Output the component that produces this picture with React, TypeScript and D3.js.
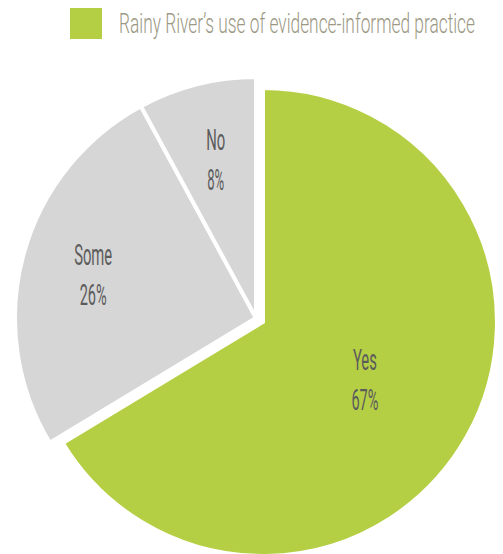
import React from "react";
import * as d3 from "d3";

const categories = ["Yes", "Some", "No"];
const values = [67, 26, 8];
const valueLabels = ["67%", "26%", "8%"];
const legendTitle = "Rainy River\u2019s use of evidence-informed practice";

const W = 503;
const H = 554;
const cx = 256;
const cy = 318;
const R = 241;
const explodeIdx = 0;
const explodeDist = 8;
const colors = ["#b5cf45", "#d6d6d6", "#d6d6d6"];
const labelFactor = [0.5, 0.7, 0.68];
const catWidths = [24, 38, 19];
const valWidths = [27, 27, 17];
const SX = 0.58;

export default function App() {
  const arcs = d3.pie<number>().value((d) => d).sort(null)(values);
  const font = "Roboto, 'Liberation Sans', sans-serif";
  return (
    <svg
      width={W}
      height={H}
      style={{ position: "absolute", left: 0, top: 0 }}
      xmlns="http://www.w3.org/2000/svg"
    >
      <rect x={70} y={8} width={32} height={31} fill="#b5cf45" />
      <g transform={`translate(119,33) scale(${SX},1)`}>
        <text
          x={0}
          y={0}
          fontFamily={font}
          fontWeight={300}
          fontSize={28}
          fill="#9c9884"
          textLength={356 / SX}
          lengthAdjust="spacingAndGlyphs"
        >
          {legendTitle}
        </text>
      </g>
      {arcs.map((a, i) => {
        const mid = (a.startAngle + a.endAngle) / 2;
        const ex = i === explodeIdx ? explodeDist : 0;
        const ox = cx + Math.sin(mid) * ex;
        const oy = cy - Math.cos(mid) * ex;
        const outer = i === explodeIdx ? R - 7 : R;
        const arcGen = d3.arc<any>().innerRadius(0).outerRadius(outer);
        const lr = outer * labelFactor[i];
        const lx = ox + Math.sin(mid) * lr;
        const ly = oy - Math.cos(mid) * lr;
        return (
          <g key={categories[i]}>
            <path
              d={arcGen(a) as string}
              transform={`translate(${ox},${oy})`}
              fill={colors[i]}
              stroke="#ffffff"
              strokeWidth={4}
              strokeLinejoin="miter"
            />
            <g transform={`translate(${lx},${ly}) scale(${SX},1)`}>
              <text
                x={0}
                y={-9}
                textAnchor="middle"
                fontFamily={font}
                fontWeight={400}
                fontSize={29}
                fill="#5c5c5c"
                textLength={catWidths[i] / SX}
                lengthAdjust="spacingAndGlyphs"
              >
                {categories[i]}
              </text>
              <text
                x={0}
                y={31}
                textAnchor="middle"
                fontFamily={font}
                fontWeight={400}
                fontSize={29}
                fill="#5c5c5c"
                textLength={valWidths[i] / SX}
                lengthAdjust="spacingAndGlyphs"
              >
                {valueLabels[i]}
              </text>
            </g>
          </g>
        );
      })}
    </svg>
  );
}
